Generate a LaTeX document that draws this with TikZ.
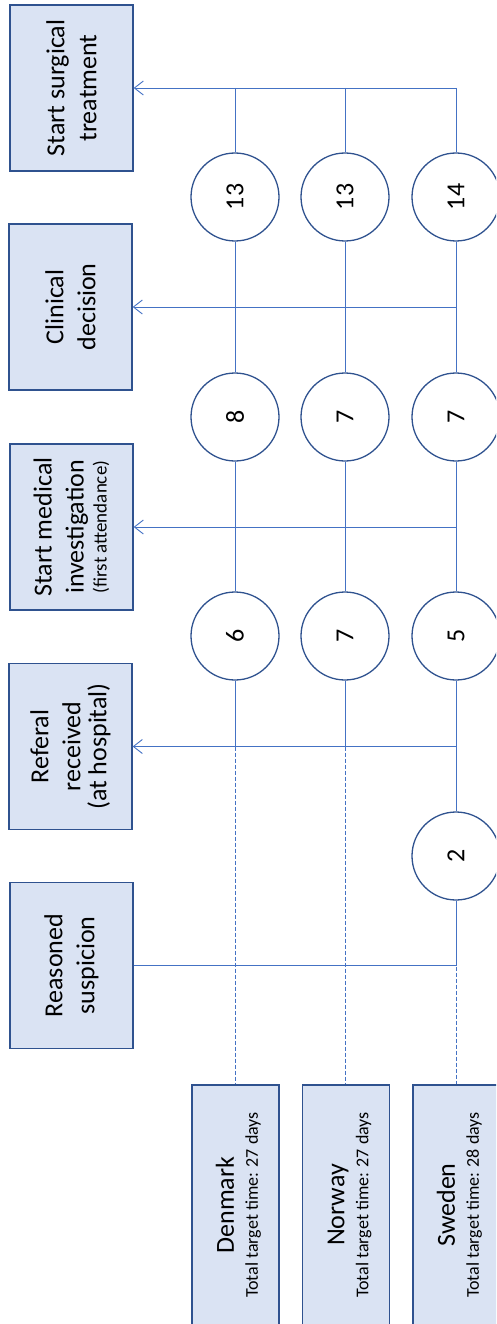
\documentclass[tikz,border=0pt]{standalone}
\usepackage{fontspec}
\setmainfont{Carlito}
\usepackage{graphicx}
\usetikzlibrary{arrows.meta}
\definecolor{linkc}{HTML}{4472C4}
\definecolor{bord}{HTML}{2F528F}
\definecolor{boxfill}{HTML}{DAE3F3}
\begin{document}
\begin{tikzpicture}[x=1pt,y=-1pt,
  stage/.style={draw=bord, line width=1.3pt, fill=boxfill, rotate=90,
    minimum width=166pt, minimum height=123pt, inner sep=0pt, align=center,
    font=\fontsize{26}{32}\selectfont},
  country/.style={stage, minimum width=240pt, minimum height=87pt},
  circ/.style={draw=bord, line width=1.3pt, fill=white, circle,
    minimum size=88pt, inner sep=0pt, font=\fontsize{26}{32}\selectfont},
  link/.style={draw=linkc, line width=0.9pt},
  arr/.style={link, -{Straight Barb[length=9pt,width=14pt]}},
  dotlink/.style={draw=linkc, line width=0.9pt, dash pattern=on 4pt off 2pt}]
\useasboundingbox (0,0) rectangle (496,1324);
\clip (0,0) rectangle (496,1324);
% stage boxes
\node[stage] (surg) at (71.5,88) {Start surgical\\treatment};
\node[stage] (dec) at (70.5,307) {Clinical\\decision};
\node[stage] (inv) at (71.5,527) {Start medical\\investigation\\[-9pt]{\fontsize{19}{23}\selectfont (first attendance)}};
\node[stage] (ref) at (70.5,746.5) {Referal\\received\\[-6pt](at hospital)};
\node[stage] (sus) at (71.5,965.5) {Reasoned\\suspicion};
% country boxes
\node[country] (den) at (235.5,1205) {\rule{0pt}{24pt}Denmark\\[-8pt]{\fontsize{18}{22}\selectfont Total target time: 27 days}};
\node[country] (nor) at (346,1205) {\rule{0pt}{24pt}Norway\\[-8pt]{\fontsize{18}{22}\selectfont Total target time: 27 days}};
\node[country] (swe) at (456.5,1205) {\rule{0pt}{24pt}Sweden\\[-8pt]{\fontsize{18}{22}\selectfont Total target time: 28 days}};
% circles
\node[circ] (d1) at (235,197) {\rotatebox{90}{13}};
\node[circ] (n1) at (345,197) {\rotatebox{90}{13}};
\node[circ] (s1) at (456,197) {\rotatebox{90}{14}};
\node[circ] (d2) at (235,417) {\rotatebox{90}{8}};
\node[circ] (n2) at (345,417) {\rotatebox{90}{7}};
\node[circ] (s2) at (456,417) {\rotatebox{90}{7}};
\node[circ] (d3) at (235,636) {\rotatebox{90}{6}};
\node[circ] (n3) at (345,636) {\rotatebox{90}{7}};
\node[circ] (s3) at (456,636) {\rotatebox{90}{5}};
\node[circ] (s4) at (456,856) {\rotatebox{90}{2}};
% horizontal connectors
\draw[arr] (s1 |- surg) -- (surg);
\draw[arr] (s1 |- dec) -- (dec);
\draw[arr] (s1 |- inv) -- (inv);
\draw[arr] (s1 |- ref) -- (ref);
\draw[link] (sus) -- (s4 |- sus);
% dashed country lines
\draw[dotlink] (d3) -- (d3 |- den.east);
\draw[dotlink] (n3) -- (n3 |- nor.east);
\draw[dotlink] (s4) -- (s4 |- swe.east);
% vertical connectors
\draw[link] (d1 |- surg) -- (d1) (d1) -- (d2) (d2) -- (d3) (d3) -- (d3 |- ref);
\draw[link] (n1 |- surg) -- (n1) (n1) -- (n2) (n2) -- (n3) (n3) -- (n3 |- ref);
\draw[link] (s1 |- surg) -- (s1) (s1) -- (s2) (s2) -- (s3) (s3) -- (s4) (s4) -- (s4 |- sus);
\end{tikzpicture}
\end{document}
